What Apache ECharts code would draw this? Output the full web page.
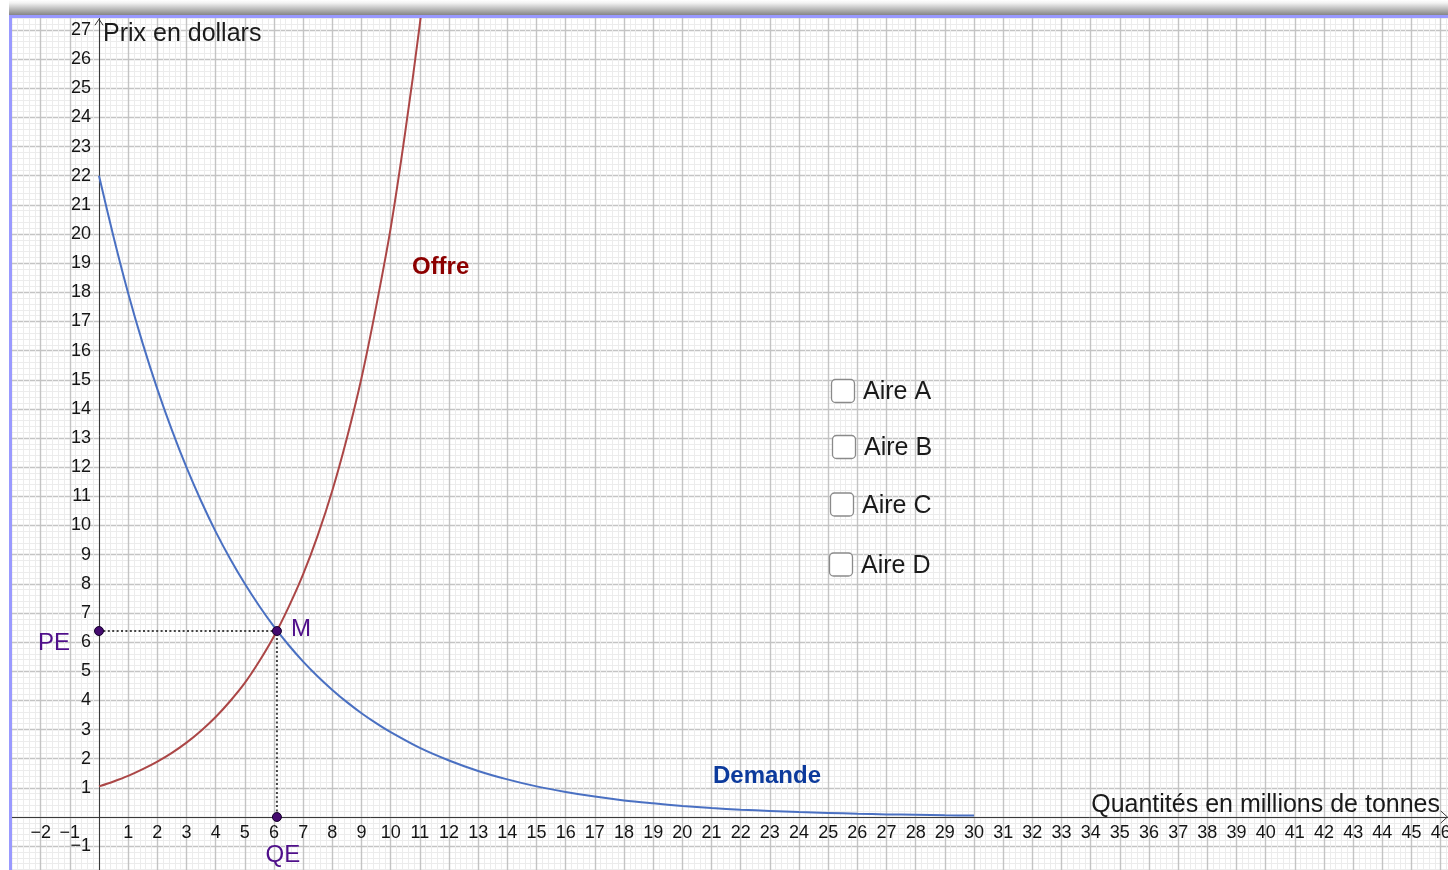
<!DOCTYPE html>
<html><head><meta charset="utf-8">
<script src="https://cdn.jsdelivr.net/npm/echarts@6/dist/echarts.min.js"></script>
<style>html,body{margin:0;padding:0;background:#fff}#c{width:1448px;height:870px}</style>
</head><body><div id="c"></div>
<script>
// Demand curve (quantity, price)
const demandQ = [0,0.5,1,1.5,2,2.5,3,3.5,4,4.5,5,5.5,6,6.5,7,7.5,8,8.5,9,9.5,10,11,12,13,14,15,16,17,18,19,20,21,22,23,24,25,26,27,28,29,30];
const demandP = [22,19.9,17.97,16.24,14.68,13.27,11.99,10.84,9.79,8.85,8.0,7.23,6.53,5.9,5.33,4.82,4.36,3.94,3.56,3.22,2.91,2.37,1.94,1.58,1.29,1.05,0.86,0.70,0.57,0.47,0.38,0.31,0.25,0.21,0.17,0.14,0.11,0.09,0.075,0.06,0.05];
// Supply curve
const supplyQ = [0,0.5,1,1.5,2,2.5,3,3.5,4,4.5,5,5.5,6,6.5,7,7.5,8,8.5,9,9.5,10,10.5,11,11.5];
const supplyP = [1.05,1.22,1.41,1.64,1.9,2.2,2.55,2.96,3.43,3.98,4.6,5.35,6.2,7.2,8.33,9.66,11.2,13.0,15.06,17.5,20.2,23.5,27.2,31.5];
// Equilibrium
const equilibriumQ = 6.1;
const equilibriumP = 6.38;
const pointNames = ['PE','M','QE'];
const curveNames = ['Offre','Demande'];
const areaLabels = ['Aire A','Aire B','Aire C','Aire D'];
const xTitle = 'Quantités en millions de tonnes';
const yTitle = 'Prix en dollars';

const FONT = '"Liberation Sans", Arial, sans-serif';
const PURPLE = '#4f0f8a';

function fmt(v, lo, hi){
  v = Number(v);
  if (v === 0 || v < lo || v > hi) return '';
  return v < 0 ? '\u2212' + (-v) : String(v);
}

const chart = echarts.init(document.getElementById('c'), null, {renderer:'canvas'});

const checkboxBoxes = [[831.5,379.5],[832.5,435.5],[830.5,493],[829.5,553]];
const checkboxTexts = [[863,392],[864,448],[862,506],[861,566]];
const graphics = [];
areaLabels.forEach((t,i)=>{
  graphics.push({type:'rect', z:50, shape:{x:checkboxBoxes[i][0], y:checkboxBoxes[i][1], width:23, height:23, r:4},
    style:{fill:'#ffffff', stroke:'#8a8a8a', lineWidth:1.3}});
  graphics.push({type:'text', z:50, style:{text:t, x:checkboxTexts[i][0], y:checkboxTexts[i][1], fill:'#1a1a1a',
    font:'25px ' + FONT, align:'left', verticalAlign:'middle', textAlign:'left', textVerticalAlign:'middle'}});
});
graphics.push({type:'text', z:50, style:{text:yTitle, x:103, y:34, fill:'#1a1a1a', font:'25px ' + FONT,
  align:'left', verticalAlign:'middle', textAlign:'left', textVerticalAlign:'middle'}});
graphics.push({type:'text', z:50, style:{text:xTitle, x:1440, y:805, fill:'#1a1a1a', font:'25px ' + FONT,
  align:'right', verticalAlign:'middle', textAlign:'right', textVerticalAlign:'middle'}});
// frame decoration
graphics.push({type:'rect', z:100, shape:{x:0, y:0, width:1448, height:15},
  style:{fill:new echarts.graphic.LinearGradient(0,0,0,1,[{offset:0,color:'#ffffff'},{offset:0.2,color:'#f2f2f2'},{offset:1,color:'#858585'}])}});
graphics.push({type:'rect', z:100, shape:{x:0, y:0, width:9, height:870}, style:{fill:'#ffffff'}});
graphics.push({type:'rect', z:101, shape:{x:9, y:15, width:1439, height:3}, style:{fill:'#9999ff'}});
graphics.push({type:'rect', z:101, shape:{x:9, y:15, width:3, height:855}, style:{fill:'#9999ff'}});

const noBorder = {textBorderWidth:0, textBorderColor:'transparent', textShadowBlur:0};

const option = {
  animation:false,
  backgroundColor:'#ffffff',
  grid:{left:11.5, right:-21.85, top:0.8, bottom:-5.3, outerBoundsMode:'none', containLabel:false},
  xAxis:{type:'value', min:-3, max:47, interval:1, offset:-58.3,
    axisLine:{onZero:false, lineStyle:{color:'#3a3a3a', width:1}},
    axisTick:{show:false},
    minorTick:{show:false, splitNumber:5},
    splitLine:{show:true, lineStyle:{color:'#c4c4c4', width:1.4}},
    minorSplitLine:{show:true, lineStyle:{color:'#ececec', width:1}},
    axisLabel:{show:true, interval:0, margin:7, fontSize:18, fontFamily:FONT, color:'#141414', formatter:v=>fmt(v,-2,46)}
  },
  yAxis:{type:'value', min:-2, max:28, interval:1, offset:-87.5,
    axisLine:{onZero:false, lineStyle:{color:'#3a3a3a', width:1}},
    axisTick:{show:false},
    minorTick:{show:false, splitNumber:5},
    splitLine:{show:true, lineStyle:{color:'#c4c4c4', width:1.4}},
    minorSplitLine:{show:true, lineStyle:{color:'#ececec', width:1}},
    axisLabel:{show:true, interval:0, margin:8, fontSize:18, fontFamily:FONT, color:'#141414', formatter:v=>fmt(v,-1,27)}
  },
  series:[
    {type:'line', name:'Demande', data:demandQ.map((q,i)=>[q,demandP[i]]), smooth:0.3, showSymbol:false,
      lineStyle:{color:'#4a70c2', width:2}, z:5, silent:true},
    {type:'line', name:'Offre', data:supplyQ.map((q,i)=>[q,supplyP[i]]), smooth:0.3, showSymbol:false,
      lineStyle:{color:'#ab4646', width:2}, z:5, silent:true},
    {type:'line', name:'guides', data:[[0,equilibriumP],[equilibriumQ,equilibriumP],[equilibriumQ,0]], showSymbol:false,
      lineStyle:{color:'#444444', width:2, type:[2,2.4]}, z:6, silent:true},
    {type:'line', name:'arrowY', data:[[-0.14,27.16],[0,27.37],[0.14,27.16]], showSymbol:false,
      lineStyle:{color:'#3a3a3a', width:1}, z:6, silent:true},
    {type:'line', name:'arrowX', data:[[46.0,0.21],[46.23,0],[46.0,-0.21]], showSymbol:false,
      lineStyle:{color:'#3a3a3a', width:1}, z:6, silent:true},
    {type:'scatter', name:'points', symbolSize:9, z:8, silent:true,
      itemStyle:{color:'#440a6e', borderColor:'#14002a', borderWidth:1, opacity:1},
      data:[
        {value:[0,equilibriumP], label:{show:true, formatter:pointNames[0], position:'inside', align:'right', verticalAlign:'middle', offset:[-29,12]}},
        {value:[equilibriumQ,equilibriumP], label:{show:true, formatter:pointNames[1], position:'inside', align:'left', verticalAlign:'middle', offset:[14,-2]}},
        {value:[equilibriumQ,0], label:{show:true, formatter:pointNames[2], position:'inside', align:'center', verticalAlign:'middle', offset:[6,38]}}
      ],
      label:Object.assign({color:PURPLE, fontSize:24, fontFamily:FONT}, noBorder)
    },
    {type:'scatter', name:'curveLabels', symbolSize:0, z:8, silent:true,
      itemStyle:{opacity:1},
      data:[
        {value:[10.73,18.87], label:{show:true, formatter:curveNames[0], color:'#8c0000'}},
        {value:[21.05,1.41], label:{show:true, formatter:curveNames[1], color:'#0c3a9c'}}
      ],
      label:Object.assign({position:'inside', align:'left', verticalAlign:'middle', fontSize:24, fontWeight:'bold', fontFamily:FONT}, noBorder)
    }
  ],
  graphic:graphics
};
chart.setOption(option);
</script></body></html>
